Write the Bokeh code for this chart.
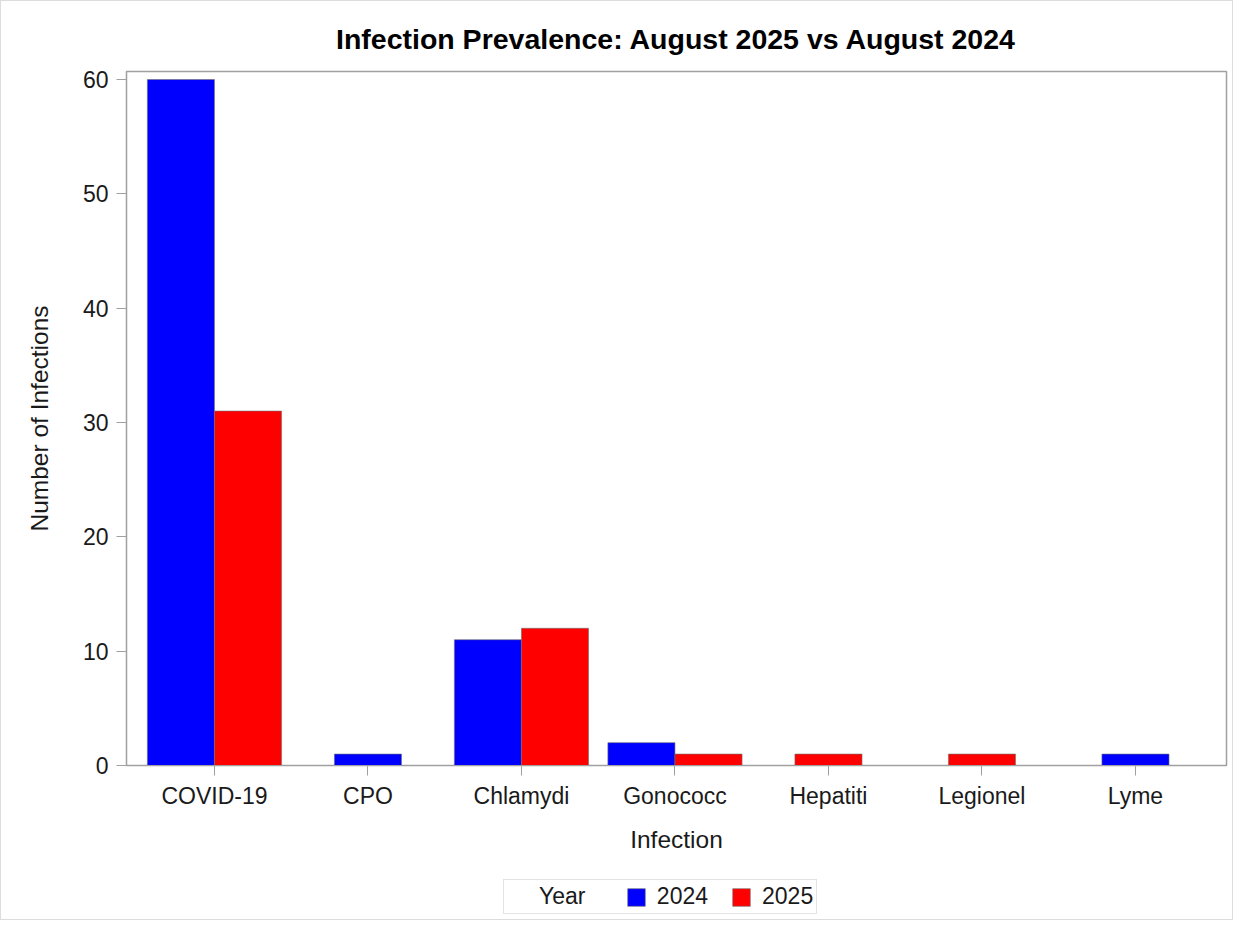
from bokeh.plotting import figure
from bokeh.layouts import column
from bokeh.models import Range1d, FixedTicker, Legend, LegendItem, ColumnDataSource
from bokeh.embed import file_html
from bokeh.resources import INLINE

# ---- data ----
categories = ["COVID-19", "CPO", "Chlamydi", "Gonococc", "Hepatiti", "Legionel", "Lyme"]
years = ["2024", "2025"]
count_2024 = [60, 1, 11, 2, 0, 0, 1]
count_2025 = [31, 0, 12, 1, 1, 1, 0]
y_ticks = [0, 10, 20, 30, 40, 50, 60]

colors = ["#0000FF", "#FF0000"]
series = [count_2024, count_2025]
BAR_W = 0.437
FONT = "'Liberation Sans', Arial, sans-serif"
TXT = "#1a1a1a"
GRAY = "#a0a0a0"
W = 1231

p = figure(width=W, height=864, output_backend="svg", toolbar_location=None,
           x_range=Range1d(-0.573, 6.593), y_range=Range1d(0, 60.7),
           min_border_left=125, min_border_right=6, min_border_top=70,
           min_border_bottom=100)
p.title.text = "Infection Prevalence: August 2025 vs August 2024"
p.title.align = "center"
p.title.text_font = FONT
p.title.text_font_size = "28.5px"
p.title.text_font_style = "bold"
p.title.text_color = "black"
p.title.standoff = 34

p.xgrid.visible = False
p.ygrid.visible = False
p.outline_line_color = GRAY
p.outline_line_width = 1.5

renderers = []
for s in range(2):
    xs, tops = [], []
    for i, cat in enumerate(categories):
        present = [k for k in range(2) if series[k][i] > 0]
        if series[s][i] <= 0:
            continue
        n = len(present)
        pos = present.index(s)
        xs.append(i + (pos - (n - 1) / 2) * BAR_W)
        tops.append(series[s][i])
    src = ColumnDataSource(dict(x=xs, top=tops))
    r = p.vbar(x="x", top="top", bottom=0, width=BAR_W, source=src,
               fill_color=colors[s], line_color="#707070", line_alpha=0.6, line_width=1)
    renderers.append(r)

for ax in (p.xaxis[0], p.yaxis[0]):
    ax.axis_line_color = GRAY
    ax.major_tick_line_color = GRAY
    ax.minor_tick_line_color = None
    ax.major_tick_out = 10
    ax.major_tick_in = 0
    ax.major_label_text_font = FONT
    ax.major_label_text_font_size = "23px"
    ax.major_label_text_color = TXT
    ax.axis_label_text_font = FONT
    ax.axis_label_text_font_size = "24.5px"
    ax.axis_label_text_font_style = "normal"
    ax.axis_label_text_color = TXT

p.xaxis.ticker = FixedTicker(ticks=list(range(len(categories))))
p.xaxis.major_label_overrides = {i: c for i, c in enumerate(categories)}
p.xaxis.axis_label = "Infection"
p.xaxis.major_label_standoff = 7
p.xaxis.axis_label_standoff = 14

p.yaxis.ticker = FixedTicker(ticks=y_ticks)
p.yaxis.axis_label = "Number of Infections"
p.yaxis.major_label_standoff = 8
p.yaxis.axis_label_standoff = 27

# ---- legend strip below the chart ----
lg = figure(width=W, height=54, output_backend="svg", toolbar_location=None,
            x_range=Range1d(0, 1), y_range=Range1d(0, 1),
            x_axis_location=None, y_axis_location=None,
            min_border=0, min_border_left=0, min_border_right=0,
            min_border_top=0, min_border_bottom=0)
lg.outline_line_color = None
lg.xgrid.visible = False
lg.ygrid.visible = False
nan = float("nan")
dummy = lg.scatter(x=[nan], y=[nan], size=1, fill_alpha=0, line_alpha=0)
swatches = [lg.vbar(x=[nan], top=[nan], bottom=0, width=0.1, fill_color=colors[k],
                    line_color="#707070", line_alpha=0.6) for k in range(2)]
items = [LegendItem(label="Year\u00a0\u00a0\u2009", renderers=[dummy])] + \
        [LegendItem(label=years[k], renderers=[swatches[k]]) for k in range(2)]
legend = Legend(items=items, orientation="horizontal", location=(377, 5),
                border_line_color="#c8c8c8", border_line_width=1.5,
                label_text_font=FONT, label_text_font_size="23px", label_text_color=TXT,
                glyph_width=22, glyph_height=22, label_standoff=10, spacing=22,
                padding=3, margin=0, background_fill_color="white")
lg.add_layout(legend, "center")

page = column(p, lg, spacing=0, styles={"border": "1px solid #dcdcdc"})
open("out.html", "w").write(file_html(page, INLINE))
